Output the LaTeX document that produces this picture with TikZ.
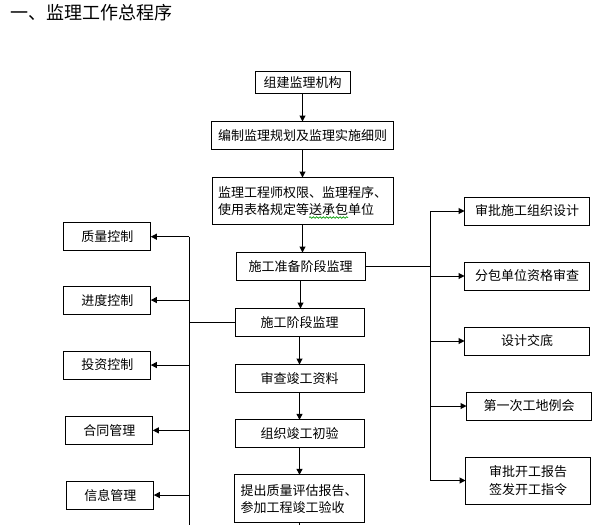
\documentclass[tikz,border=0pt]{standalone}
\usepackage{fontspec}
\newfontfamily\cjk{Noto Sans CJK SC}
\usetikzlibrary{positioning,arrows.meta,decorations.pathmorphing}
\tikzset{
  box/.style={draw, line width=0.75pt, inner sep=0pt, outer sep=0pt, minimum height=21pt,
    font=\cjk\fontsize{9.75}{13}\selectfont},
  flow/.style={line width=0.75pt, -{Triangle[length=4.5pt,width=4.5pt]}},
  bus/.style={line width=0.75pt},
}

\begin{document}
\begin{tikzpicture}[x=0.75pt, y=-0.75pt, node distance=21pt]
  \useasboundingbox (0,0) rectangle (599,525);
  % Define title
  \node[anchor=west, inner sep=0pt, font=\cjk\fontsize{13.5}{16}\selectfont] (title) at (10,13) {一、监理工作总程序};
  % Define main steps
  \node[box, minimum width=71.25pt, minimum height=16.5pt] (org) at (302.5,82.5) {组建监理机构};
  \node[box, minimum width=136.5pt, below=of org] (plan) {编制监理规划及监理实施细则};
  \node[box, minimum width=135.75pt, minimum height=35.25pt, align=left, below=of plan] (rules) {监理工程师权限、监理程序、\\使用表格规定等送承包单位};
  \node[box, minimum width=96.75pt, below=of rules, xshift=-1.5pt] (prep) {施工准备阶段监理};
  \node[box, minimum width=96.75pt, below=of prep, xshift=-0.75pt] (build) {施工阶段监理};
  \node[box, minimum width=96.75pt, below=of build] (docs) {审查竣工资料};
  \node[box, minimum width=96.75pt, below=20.5pt of docs] (check) {组织竣工初验};
  \node[box, minimum width=97.5pt, minimum height=36pt, align=left, below=20.25pt of check, xshift=-0.375pt] (final) {提出质量评估报告、\\参加工程竣工验收};
  % Define preparation tasks
  \node[box, minimum width=93.75pt] (rb1) at (527,211) {审批施工组织设计};
  \node[box, minimum width=93.75pt, below=27.75pt of rb1] (rb2) {分包单位资格审查};
  \node[box, minimum width=93.75pt, below=27.75pt of rb2] (rb3) {设计交底};
  \node[box, minimum width=93.75pt, below=27.75pt of rb3, xshift=1.5pt] (rb4) {第一次工地例会};
  \node[box, minimum width=93.75pt, minimum height=35.25pt, align=center, below=27.75pt of rb4, xshift=-0.75pt] (rb5) {审批开工报告\\签发开工指令};
  % Define control tasks
  \node[box, minimum width=65.25pt] (lb1) at (107.3,236.7) {质量控制};
  \node[box, minimum width=65.25pt, below=26.5pt of lb1] (lb2) {进度控制};
  \node[box, minimum width=65.25pt, below=27.75pt of lb2] (lb3) {投资控制};
  \node[box, minimum width=65.25pt, below=28pt of lb3, xshift=1.5pt] (lb4) {合同管理};
  \node[box, minimum width=65.25pt, below=27.5pt of lb4, xshift=0.75pt] (lb5) {信息管理};
  % Define bus points
  \coordinate (rbus) at (430,266);
  \coordinate (lbus) at (189,322);
  \coordinate (edge) at (0,525);
  % Define main edges
  \foreach \a/\b in {org/plan, plan/rules, rules/prep, prep/build, build/docs, docs/check, check/final}
    \draw[flow] (\a.south) -- (\a.south |- \b.north);
  \draw[bus] (final.south) -- (final.south |- edge);
  % Define right edges
  \draw[bus] (prep.east) -- (prep.east -| rbus);
  \draw[bus] (rbus |- rb1.west) -- (rbus |- rb5.west);
  \foreach \i in {1,...,5}
    \draw[flow] (rbus |- rb\i.west) -- (rb\i.west);
  % Define left edges
  \draw[bus] (build.west) -- (build.west -| lbus);
  \draw[bus] (lbus |- lb1.east) -- (lbus |- edge);
  \foreach \i in {1,...,5}
    \draw[flow] (lbus |- lb\i.east) -- (lb\i.east);
  % Define spelling mark
  \draw[green!60!black, line width=0.5pt, decorate, decoration={snake, amplitude=0.6pt, segment length=2.5pt}] (309,217.5) -- (348,217.5);
\end{tikzpicture}
\end{document}
